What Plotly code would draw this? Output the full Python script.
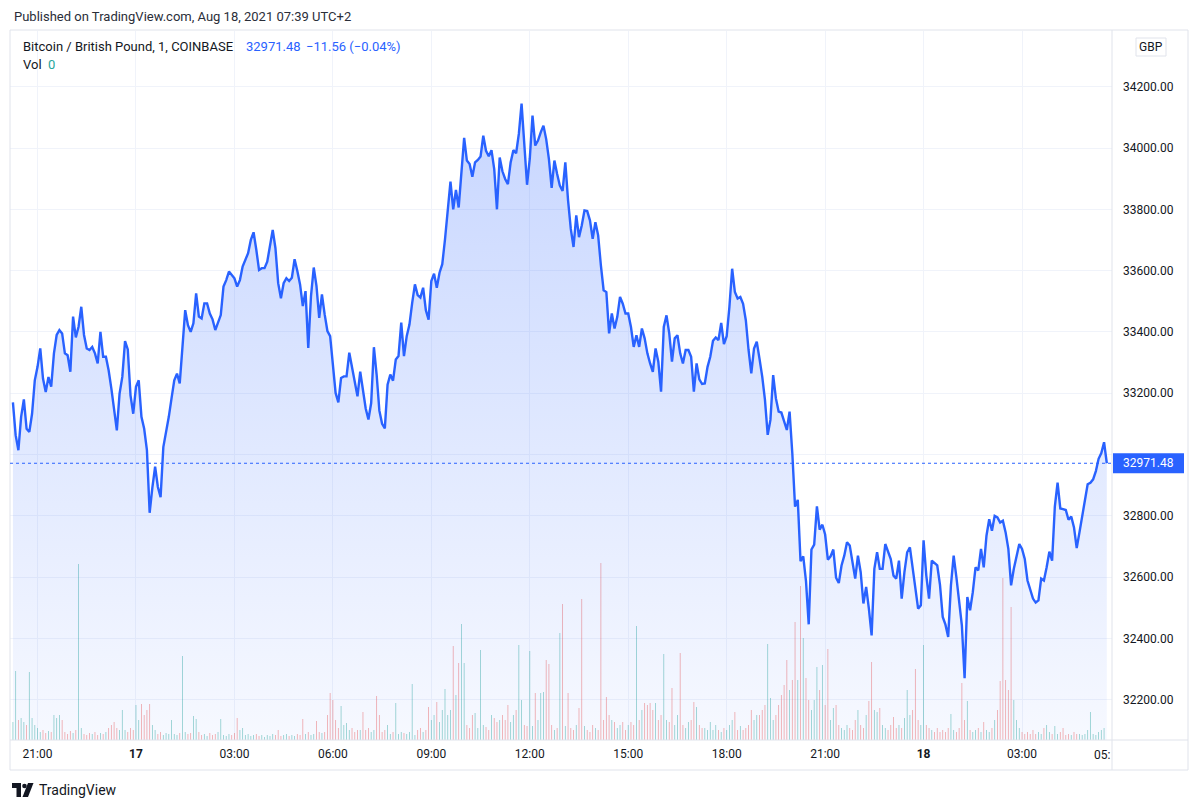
import pandas as pd
import plotly.graph_objects as go

# BTC/GBP (COINBASE, 1-minute chart), sampled every 5 minutes off the picture
start = "2021-08-16 20:15"
close = [
    33170, 33063, 33014, 33123, 33180, 33084, 33074, 33133, 33242, 33286,
    33346, 33248, 33204, 33253, 33221, 33330, 33390, 33406, 33395, 33330,
    33324, 33270, 33450, 33382, 33417, 33482, 33390, 33346, 33341, 33351,
    33330, 33297, 33400, 33319, 33319, 33275, 33215, 33155, 33079, 33199,
    33253, 33370, 33343, 33193, 33133, 33221, 33242, 33123, 33084, 33014,
    32810, 32893, 32960, 32894, 32861, 33024, 33068, 33123, 33183, 33242,
    33264, 33232, 33351, 33471, 33422, 33400, 33428, 33526, 33450, 33444,
    33493, 33493, 33460, 33441, 33406, 33428, 33455, 33548, 33569, 33597,
    33586, 33575, 33548, 33569, 33613, 33635, 33657, 33700, 33725, 33668,
    33602, 33608, 33608, 33629, 33678, 33733, 33673, 33559, 33510, 33559,
    33575, 33566, 33577, 33637, 33599, 33555, 33484, 33533, 33348, 33517,
    33610, 33550, 33446, 33522, 33457, 33403, 33386, 33283, 33201, 33170,
    33250, 33255, 33255, 33332, 33285, 33234, 33190, 33270, 33201, 33150,
    33114, 33168, 33350, 33261, 33143, 33100, 33085, 33228, 33261, 33241,
    33310, 33321, 33430, 33321, 33386, 33424, 33495, 33555, 33520, 33512,
    33544, 33471, 33440, 33566, 33590, 33544, 33593, 33621, 33702, 33795,
    33890, 33800, 33863, 33806, 33906, 34033, 33959, 33948, 33906, 33953,
    33961, 33972, 34040, 33991, 33973, 33993, 33931, 33800, 33969, 33924,
    33899, 33882, 33953, 33993, 33983, 34046, 34145, 34026, 33880, 33965,
    34106, 34008, 34024, 34051, 34073, 34029, 33964, 33870, 33959, 33915,
    33877, 33860, 33953, 33829, 33736, 33677, 33780, 33709, 33747, 33796,
    33794, 33764, 33704, 33758, 33715, 33617, 33536, 33530, 33395, 33460,
    33411, 33449, 33514, 33492, 33460, 33460, 33416, 33351, 33389, 33351,
    33411, 33379, 33330, 33297, 33270, 33346, 33303, 33205, 33416, 33454,
    33395, 33303, 33379, 33389, 33330, 33297, 33341, 33341, 33319, 33205,
    33297, 33245, 33230, 33232, 33286, 33319, 33371, 33382, 33373, 33429,
    33360, 33386, 33482, 33606, 33530, 33509, 33514, 33492, 33438, 33341,
    33265, 33346, 33368, 33313, 33254, 33178, 33064, 33113, 33259, 33183,
    33140, 33137, 33104, 33080, 33140, 33004, 32830, 32852, 32652, 32668,
    32587, 32446, 32690, 32706, 32831, 32755, 32771, 32739, 32657, 32668,
    32690, 32598, 32581, 32638, 32670, 32714, 32703, 32649, 32595, 32670,
    32616, 32514, 32568, 32497, 32410, 32627, 32681, 32627, 32627, 32708,
    32681, 32659, 32605, 32595, 32654, 32530, 32616, 32681, 32697, 32627,
    32551, 32497, 32508, 32720, 32605, 32530, 32654, 32646, 32638, 32575,
    32470, 32445, 32405, 32573, 32670, 32600, 32524, 32443, 32270, 32535,
    32492, 32551, 32632, 32622, 32692, 32632, 32735, 32789, 32751, 32800,
    32795, 32778, 32784, 32746, 32692, 32573, 32627, 32668, 32708, 32692,
    32659, 32589, 32562, 32530, 32517, 32524, 32595, 32589, 32632, 32683,
    32654, 32830, 32908, 32824, 32822, 32819, 32787, 32798, 32762, 32695,
    32746, 32795, 32843, 32903, 32908, 32919, 32946, 32986, 33005, 33040,
    32971.48,
]

# peak 1-minute volume inside each 5-minute step (relative units)
volume = [
    18, 69, 20, 22, 18, 15, 68, 22, 15, 12, 8, 10, 7, 9, 8, 25, 22, 25, 20, 8,
    6, 9, 7, 10, 176, 12, 6, 5, 7, 6, 8, 5, 7, 6, 8, 12, 15, 18, 12, 10,
    30, 10, 8, 12, 10, 35, 20, 36, 25, 30, 36, 15, 10, 6, 8, 5, 7, 6, 20, 6,
    5, 7, 84, 8, 6, 7, 24, 21, 8, 5, 6, 4, 7, 5, 6, 8, 21, 5, 4, 6,
    5, 7, 22, 10, 12, 5, 6, 4, 5, 6, 4, 5, 3, 5, 4, 6, 5, 10, 4, 5,
    6, 4, 5, 4, 6, 5, 21, 6, 8, 5, 6, 19, 8, 7, 8, 25, 47, 40, 20, 12,
    34, 15, 17, 10, 12, 8, 10, 10, 28, 10, 12, 8, 10, 44, 25, 8, 10, 15, 6, 8,
    37, 6, 8, 7, 6, 8, 56, 5, 10, 12, 8, 10, 33, 20, 25, 38, 18, 30, 51, 25,
    30, 94, 45, 77, 116, 77, 15, 12, 25, 27, 12, 90, 15, 13, 10, 25, 22, 18, 20, 25,
    20, 35, 18, 25, 30, 95, 40, 15, 14, 89, 14, 47, 20, 47, 48, 80, 76, 15, 10, 12,
    107, 136, 14, 47, 12, 10, 15, 32, 141, 14, 10, 8, 15, 12, 10, 177, 20, 43, 25, 20,
    18, 12, 15, 18, 10, 15, 18, 15, 114, 20, 30, 37, 35, 37, 30, 37, 20, 25, 86, 20,
    18, 52, 15, 25, 87, 15, 12, 18, 20, 38, 33, 15, 12, 12, 10, 18, 10, 15, 10, 8,
    12, 10, 15, 20, 28, 10, 14, 10, 12, 15, 30, 20, 25, 25, 30, 35, 96, 42, 20, 25,
    35, 45, 55, 80, 50, 60, 118, 60, 154, 102, 62, 40, 30, 40, 73, 50, 75, 35, 91, 20,
    32, 35, 15, 12, 10, 15, 12, 10, 20, 30, 15, 12, 25, 39, 78, 30, 28, 32, 15, 12,
    10, 15, 23, 12, 15, 12, 22, 50, 25, 30, 71, 20, 15, 95, 15, 12, 10, 8, 12, 8,
    10, 8, 12, 26, 10, 8, 12, 57, 20, 39, 10, 8, 10, 12, 8, 18, 10, 8, 12, 20,
    30, 59, 162, 60, 50, 133, 40, 20, 12, 8, 6, 8, 6, 10, 6, 8, 6, 12, 15, 8,
    6, 14, 6, 8, 12, 5, 6, 5, 8, 6, 6, 5, 6, 10, 28, 6, 5, 8, 10, 12,
    0,
]
# spikes whose colour differs from the 5-minute price move
green_bins = [1, 6, 200, 276]
red_bins = [201, 208, 362]

time_ticks = ["2021-08-16 21:00", "2021-08-17 00:00", "2021-08-17 03:00",
              "2021-08-17 06:00", "2021-08-17 09:00", "2021-08-17 12:00",
              "2021-08-17 15:00", "2021-08-17 18:00", "2021-08-17 21:00",
              "2021-08-18 00:00", "2021-08-18 03:00"]
time_labels = ["21:00", "<b>17</b>", "03:00", "06:00", "09:00", "12:00",
               "15:00", "18:00", "21:00", "<b>18</b>", "03:00"]
price_ticks = list(range(32200, 34201, 200))
last_price = 32971.48
change = -11.56
change_pct = -0.04

times = pd.date_range(start, periods=len(close), freq="5min")

UP = "rgba(38,166,154,0.5)"
DOWN = "rgba(239,83,80,0.5)"
vol_colors = []
for i in range(len(close)):
    up = i == 0 or close[i] >= close[i - 1]
    if i in green_bins:
        up = True
    if i in red_bins:
        up = False
    vol_colors.append(UP if up else DOWN)

# the 33000 label sits under the last-price tag
price_labels = ["" if p == 33000 else f"{p:.2f}" for p in price_ticks]

# page geometry (pixels)
L, R, T, B = 10, 1112, 31, 740
y_lo, y_hi = 32068.6, 34381.7


def px(x):
    return (x - L) / (R - L)


def py(y):
    return (B - y) / (B - T)


TEXT = "#131722"
GRID = "#f0f3fa"
BORDER = "#e0e3eb"
BLUE = "#2962FF"
FONT = "Roboto"

fig = go.Figure()

fig.add_trace(go.Bar(
    x=times, y=volume, marker_color=vol_colors, marker_line_width=0,
    width=90000, yaxis="y", hoverinfo="skip",
))

fig.add_trace(go.Scatter(
    x=times, y=close, yaxis="y2", mode="lines",
    line=dict(color=BLUE, width=2.4),
    fill="tozeroy",
    fillgradient=dict(type="vertical", start=y_lo, stop=max(close),
                      colorscale=[[0, "rgba(41,98,255,0.04)"],
                                  [1, "rgba(41,98,255,0.26)"]]),
))

fig.update_layout(
    width=1200, height=809,
    margin=dict(l=L, r=1200 - R, t=T, b=809 - B),
    paper_bgcolor="white", plot_bgcolor="white",
    showlegend=False,
    font=dict(family=FONT, size=12, color=TEXT),
    xaxis=dict(
        type="date", range=["2021-08-16 20:09:40", "2021-08-18 05:44:30"],
        tickvals=time_ticks, ticktext=time_labels,
        showgrid=True, gridcolor=GRID, gridwidth=1,
        ticks="", showline=False, zeroline=False,
        ticklabelstandoff=5, tickfont=dict(size=12, color=TEXT),
    ),
    yaxis=dict(range=[0, B - T], visible=False, fixedrange=True),
    yaxis2=dict(
        overlaying="y", side="right", range=[y_lo, y_hi],
        tickvals=price_ticks, ticktext=price_labels,
        showgrid=True, gridcolor=GRID, gridwidth=1,
        ticks="", showline=False, zeroline=False,
        ticklabelstandoff=10, tickfont=dict(size=12, color=TEXT),
    ),
)

shapes = [
    # chart frame and axis separators
    dict(type="rect", xref="paper", yref="paper", x0=px(10), x1=px(1188),
         y0=py(770), y1=py(30), line=dict(color=BORDER, width=1)),
    dict(type="line", xref="paper", yref="paper", x0=px(1112), x1=px(1112),
         y0=py(770), y1=py(30), line=dict(color=BORDER, width=1)),
    dict(type="line", xref="paper", yref="paper", x0=px(10), x1=px(1188),
         y0=py(740), y1=py(740), line=dict(color=BORDER, width=1)),
    # last price line and label
    dict(type="line", xref="paper", yref="y2", x0=0, x1=1,
         y0=last_price, y1=last_price, line=dict(color=BLUE, width=1, dash="dot")),
    dict(type="rect", xref="paper", yref="paper", x0=px(1113), x1=px(1184),
         y0=py(473.3), y1=py(453.3), fillcolor=BLUE, line=dict(width=0)),
    # currency button
    dict(type="rect", xref="paper", yref="paper", x0=px(1136), x1=px(1166),
         y0=py(56), y1=py(38), fillcolor="white", line=dict(color=BORDER, width=1)),
    # TradingView logo
    dict(type="path", xref="paper", yref="paper", fillcolor=TEXT, line=dict(width=0),
         path=f"M {px(12)} {py(783)} L {px(21)} {py(783)} L {px(21)} {py(797)} "
              f"L {px(16.5)} {py(797)} L {px(16.5)} {py(788)} L {px(12)} {py(788)} Z"),
    dict(type="circle", xref="paper", yref="paper", fillcolor=TEXT, line=dict(width=0),
         x0=px(22.2), x1=px(26.8), y0=py(788.3), y1=py(783.7)),
    dict(type="path", xref="paper", yref="paper", fillcolor=TEXT, line=dict(width=0),
         path=f"M {px(28)} {py(783)} L {px(33.5)} {py(783)} L {px(28)} {py(797)} "
              f"L {px(22.5)} {py(797)} Z"),
]
fig.update_layout(shapes=shapes)


def note(x, y, text, size=13, color=TEXT, anchor="left"):
    fig.add_annotation(xref="paper", yref="paper", x=x, y=y, text=text,
                       showarrow=False, xanchor=anchor, yanchor="middle",
                       font=dict(family=FONT, size=size, color=color))


note(px(12), py(16), "Published on TradingView.com, Aug 18, 2021 07:39 UTC+2", color="#2a2e39")
note(px(21), py(47), "Bitcoin / British Pound, 1, COINBASE")
note(px(244), py(47), f"{last_price:.2f}", color=BLUE)
note(px(304), py(47), f"\u2212{abs(change):.2f} (\u2212{abs(change_pct):.2f}%)", color=BLUE)
note(px(21), py(64), "Vol")
note(px(46), py(64), f"{volume[-1]}", color="#26a69a")
note(px(1151), py(47), "GBP", size=12, anchor="center")
note(px(1148.5), py(463.3), f"{last_price:.2f}", size=12, color="white", anchor="center")
note(px(1112), py(755), "05:", size=12, anchor="right")
note(px(37), py(790), "TradingView", size=14)

# drop the browser's default page margin so the figure sits at (0, 0)
fig.write_html("out.html", config={"displayModeBar": False},
               post_script="document.body.style.margin='0';")
